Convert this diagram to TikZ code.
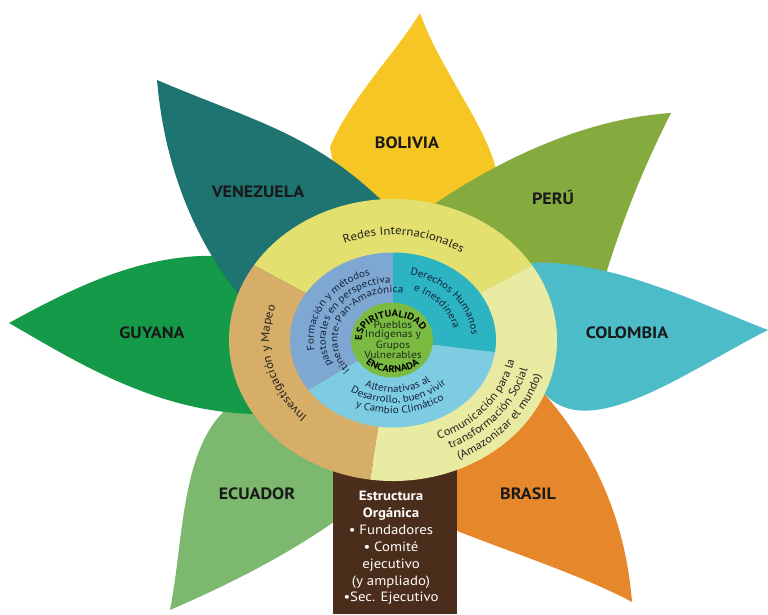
\documentclass[tikz,border=0pt]{standalone}
\usepackage{fontspec}
\setmainfont{PT Sans}[FakeStretch=1.1]
\usetikzlibrary{decorations.text}
\definecolor{cBol}{HTML}{F6C724}
\definecolor{cVen}{HTML}{1D7470}
\definecolor{cPer}{HTML}{85AB3E}
\definecolor{cGuy}{HTML}{149A48}
\definecolor{cCol}{HTML}{4BBCC8}
\definecolor{cEcu}{HTML}{7CB86D}
\definecolor{cBra}{HTML}{E7872B}
\definecolor{cTrunk}{HTML}{4B2D1B}
\definecolor{cRedes}{HTML}{E3E06F}
\definecolor{cInv}{HTML}{D7AE67}
\definecolor{cCom}{HTML}{E9EBA2}
\definecolor{cForm}{HTML}{7EA8D2}
\definecolor{cDer}{HTML}{2DB4C2}
\definecolor{cAlt}{HTML}{7DCCE2}
\definecolor{cCore}{HTML}{7CBB42}
\definecolor{txtRing}{HTML}{24231F}
\definecolor{txtIn}{HTML}{15233A}
\definecolor{txtCore}{HTML}{1A2D1A}
\newcommand\curvtext[7]{%
  \path[decorate,decoration={text along path,text align=center,text color=#5,
    text={|#6|#7}}] (#1:#3 and #4) arc[start angle=#1,end angle=#2,x radius=#3,y radius=#4];}
\newcommand\ringfont{\fontsize{10}{12}\selectfont}
\newcommand\comfont{\fontsize{9.6}{11}\selectfont}
\newcommand\infont{\fontsize{8.7}{10}\selectfont}
\newcommand\corefont{\fontsize{8.2}{10}\selectfont\bfseries}
\tikzset{
  country/.style={font=\fontsize{14}{16}\selectfont\bfseries, text=black!90, inner sep=0pt},
  trunktxt/.style={font=\fontsize{11.5}{14.4}\selectfont, text=white, align=center, inner sep=0pt},
  coretxt/.style={font=\fontsize{8.9}{7.5}\selectfont, text=txtCore, align=center, inner sep=0pt}
}
\begin{document}
\begin{tikzpicture}[x=0.03cm,y=0.03cm]
\useasboundingbox (0,0) rectangle (768,614);
% petals
\fill[cBol] (393,290) -- (335,440) -- (330,467) .. controls (350,515) and (395,560) .. (420,601) .. controls (440,545) and (485,490) .. (496,445) -- (470,300) -- cycle;
\fill[cBra] (632,12) .. controls (625,100) and (590,170) .. (540,225) -- (450,200) -- (440,90) .. controls (500,65) and (580,40) .. (632,12) -- cycle;
\fill[cEcu] (170,4) .. controls (185,80) and (180,180) .. (240,215) -- (340,200) -- (345,100) .. controls (290,60) and (230,30) .. (170,4) -- cycle;
\fill[cPer] (420,400) .. controls (490,450) and (580,495) .. (671,501) .. controls (645,450) and (620,390) .. (600,320) -- (450,300) -- cycle;
\fill[cGuy] (9,291) .. controls (80,330) and (160,370) .. (250,355) -- (300,280) -- (260,200) .. controls (160,200) and (80,250) .. (9,291) -- cycle;
\fill[cVen] (157,534) .. controls (260,490) and (320,480) .. (400,395) -- (300,250) -- (255,300) .. controls (200,360) and (165,440) .. (157,534) -- cycle;
\fill[cCol] (520,350) .. controls (600,360) and (700,310) .. (768,284) .. controls (690,245) and (590,170) .. (545,220) -- cycle;
% trunk
\fill[cTrunk] (333,0) rectangle (457,150);
% labels
\node[country] (bol) at (407,471) {BOLIVIA};
\node[country] (ven) at (258,422) {VENEZUELA};
\node[country] (per) at (553,417) {PERÚ};
\node[country] (guy) at (152,281) {GUYANA};
\node[country] (col) at (627,281) {COLOMBIA};
\node[country] (ecu) at (257,120) {ECUADOR};
\node[country] (bra) at (528,120) {BRASIL};
\node[trunktxt] (org) at (391,66) {\textbf{Estructura}\\\textbf{Orgánica}\\• Fundadores\\• Comité\\ejecutivo\\(y ampliado)\\•Sec. Ejecutivo};
% rings
\begin{scope}[shift={(393,274)}]
\fill[cRedes] (0,0) -- (32:164 and 141) arc[start angle=32,end angle=148,x radius=164,y radius=141] -- cycle;
\fill[cInv] (0,0) -- (148:164 and 141) arc[start angle=148,end angle=262,x radius=164,y radius=141] -- cycle;
\fill[cCom] (0,0) -- (262:164 and 141) arc[start angle=262,end angle=392,x radius=164,y radius=141] -- cycle;
\fill[cForm] (0,0) -- (90:103 and 87.5) arc[start angle=90,end angle=215,x radius=103,y radius=87.5] -- cycle;
\fill[cAlt] (0,0) -- (215:103 and 87.5) arc[start angle=215,end angle=352,x radius=103,y radius=87.5] -- cycle;
\fill[cDer] (0,0) -- (352:103 and 87.5) arc[start angle=352,end angle=450,x radius=103,y radius=87.5] -- cycle;
\fill[cCore] (-1,0) ellipse [x radius=41, y radius=37.5];
% outer ring texts
\curvtext{164}{4}{122.2}{105}{txtRing}{\ringfont}{Redes Internacionales}
\curvtext{253}{133}{123.8}{106.5}{txtRing}{\ringfont}{Investigación y Mapeo}
\curvtext{253}{393}{123.8}{106.5}{txtRing}{\comfont}{Comunicación para la}
\curvtext{253}{393}{138.8}{119.3}{txtRing}{\comfont}{transformación Social}
\curvtext{253}{393}{153.8}{132.2}{txtRing}{\comfont}{(Amazonizar el mundo)}
% inner disk texts
\curvtext{240}{60}{79.3}{67.4}{txtIn}{\infont}{Formación y métodos}
\curvtext{240}{60}{67.5}{57.3}{txtIn}{\infont}{pastorales en perspectiva}
\curvtext{240}{60}{55.6}{47.3}{txtIn}{\infont}{itinerante-Pan-Amazónica}
\curvtext{128}{-52}{78.8}{67}{txtIn}{\infont}{Derechos Humanos}
\curvtext{128}{-52}{62}{52.7}{txtIn}{\infont}{e Inesdinera}
\curvtext{186}{366}{61.8}{52.5}{txtIn}{\infont}{Alternativas al}
\curvtext{186}{366}{74.2}{63}{txtIn}{\infont}{Desarrollo, buen vivir}
\curvtext{186}{366}{86.5}{73.5}{txtIn}{\infont}{y Cambio Climático}
% core texts
\begin{scope}[shift={(0,2)}]
\curvtext{250}{-50}{31}{21}{black}{\corefont}{ESPIRITUALIDAD}
\end{scope}
\curvtext{169}{369}{39}{32.5}{black}{\corefont}{ENCARNADA}
\node[coretxt] (core) at (0,0) {Pueblos\\Indígenas y\\Grupos\\Vulnerables};
\end{scope}
\end{tikzpicture}
\end{document}
